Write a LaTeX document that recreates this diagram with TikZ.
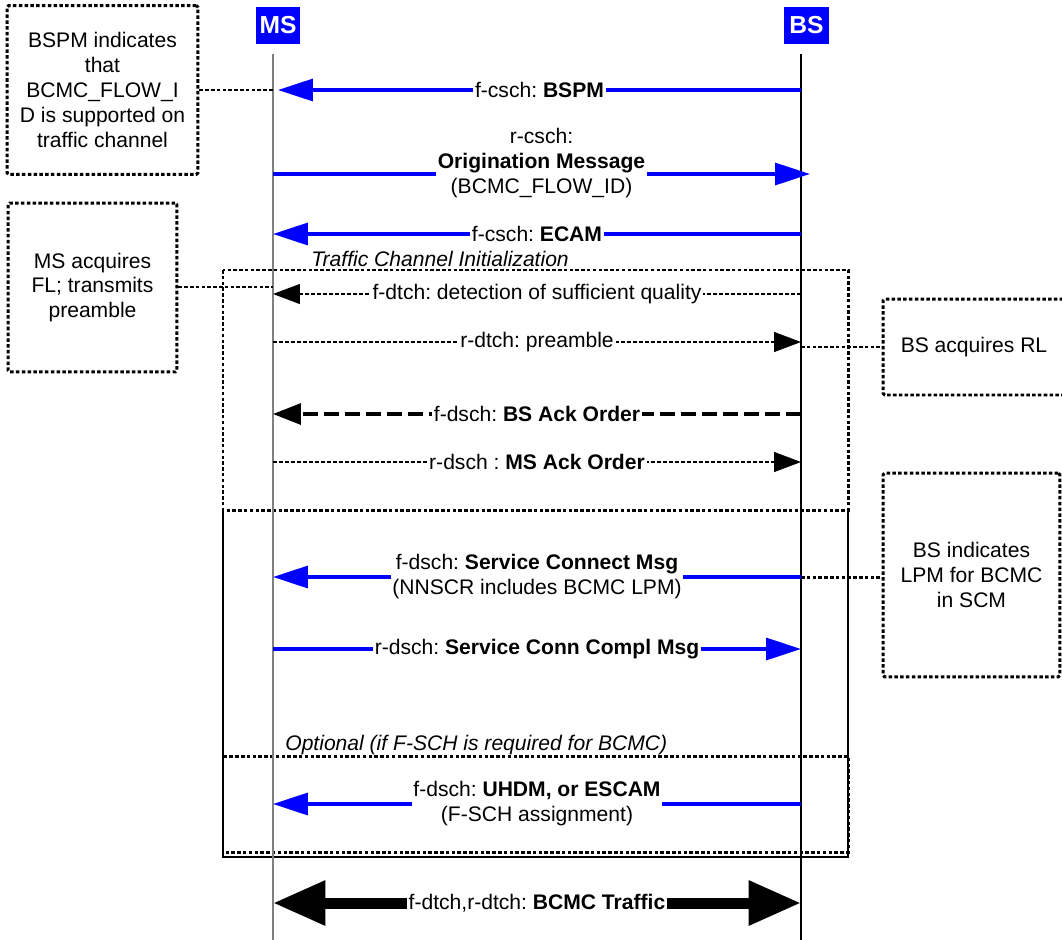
\documentclass[tikz,border=0pt]{standalone}
\usepackage{fontspec}
\setmainfont{Liberation Sans}
\usetikzlibrary{positioning,arrows.meta}

\begin{document}
\begin{tikzpicture}[
  x=0.02cm, y=-0.02cm,
  font=\fontsize{12}{14.2}\selectfont\frenchspacing,
  ent/.style={fill=blue, text=white, font=\fontsize{14}{16}\selectfont\bfseries, minimum width=0.9cm, minimum height=0.74cm, inner sep=0pt},
  life/.style={line width=0.8pt},
  note/.style={draw, line width=1.7pt, dash pattern=on 2pt off 1.3pt, rounded corners=1pt, align=center, inner sep=2pt},
  link/.style={line width=1.7pt, dash pattern=on 2pt off 1.3pt},
  frame/.style={line width=1.7pt, dash pattern=on 2pt off 1.3pt},
  lbl/.style={fill=white, text=black, inner sep=1pt, align=center},
  bmsg/.style={blue, line width=1.9pt, -{Triangle[length=0.7cm, width=0.44cm]}},
  dmsg/.style={line width=0.7pt, dash pattern=on 0.08cm off 0.04cm, -{Triangle[length=0.54cm, width=0.4cm]}},
  hmsg/.style={line width=1.8pt, dash pattern=on 0.3cm off 0.12cm, -{Triangle[length=0.56cm, width=0.42cm]}},
  tmsg/.style={line width=0.22cm, {Triangle[length=1.05cm, width=0.85cm]}-{Triangle[length=1.05cm, width=0.85cm]}},
  grpcap/.style={font=\fontsize{12}{14.2}\selectfont\itshape, anchor=west, inner sep=0pt},
]
\useasboundingbox (0,0) rectangle (1062,940);

% ---------- khung: Traffic Channel Init / Optional ----------
\draw[frame] (223,270) rectangle (848,510);
\draw[line width=1pt] (223,510) -- (223,857) -- (848,857) -- (848,510);
\draw[frame] (223,756) rectangle (848,852);
\node[grpcap] (tci) at (311,259) {Traffic Channel Initialization};
\node[grpcap] (opt) at (285,745) {Optional (if F-SCH is required for BCMC)};

% ---------- MS, BS ----------
\node[ent] (ms) at (278,25.5) {MS};
\node[ent] (bs) at (806.5,25.5) {BS};
\coordinate (mstop) at (273,54);
\coordinate (msbot) at (273,940);
\coordinate (bstop) at (801,54);
\coordinate (bsbot) at (801,940);
\draw[life, gray] (mstop) -- (msbot);
\draw[life] (bstop) -- (bsbot);

% diem tren hai duong song
\foreach \n/\y in {1/90, 2/174, 3/234, 4/294, 5/342, 6/414, 7/462, 8/577, 9/649, 10/804, 11/903} {
  \coordinate (a\n) at (273,\y);
  \coordinate (b\n) at (801,\y);
}

% ---------- ban tin ----------
\draw[bmsg] (b1) -- ([xshift=0.1cm]a1) node[midway, lbl] {f-csch: \textbf{BSPM}};
\draw[bmsg] (a2) -- ([xshift=0.18cm]b2) node[midway, lbl, yshift=0.22cm] {r-csch:\\\textbf{Origination Message}\\(BCMC\_FLOW\_ID)};
\draw[bmsg] (b3) -- (a3) node[midway, lbl] {f-csch: \textbf{ECAM}};
\draw[dmsg] (b4) -- (a4) node[midway, lbl] {f-dtch: detection of sufficient quality};
\draw[dmsg] (a5) -- (b5) node[midway, lbl] {r-dtch: preamble};
\draw[hmsg] (b6) -- (a6) node[midway, lbl] {f-dsch: \textbf{BS Ack Order}};
\draw[dmsg] (a7) -- (b7) node[midway, lbl] {r-dsch : \textbf{MS Ack Order}};
\draw[bmsg] (b8) -- (a8) node[midway, lbl] {f-dsch: \textbf{Service Connect Msg}\\(NNSCR includes BCMC LPM)};
\draw[bmsg] (a9) -- (b9) node[midway, lbl] {r-dsch: \textbf{Service Conn Compl Msg}};
\draw[bmsg] (b10) -- (a10) node[midway, lbl] {f-dsch: \textbf{UHDM, or ESCAM}\\(F-SCH assignment)};
\draw[tmsg] (a11) -- (b11) node[midway, lbl] {f-dtch,r-dtch: \textbf{BCMC Traffic}};

% ---------- ghi chu ----------
\node[note, minimum width=3.82cm, minimum height=3.38cm] (n1) at (102.5,90) {BSPM indicates\\that\\BCMC\_FLOW\_I\\D is supported on\\traffic channel};
\node[note, minimum width=3.38cm, minimum height=3.38cm] (n2) at (92.5,287.5) {MS acquires\\FL; transmits\\preamble};
\node[note, minimum width=3.64cm, minimum height=1.92cm] (n3) at (974,347) {BS acquires RL};
\node[note, minimum width=3.54cm, minimum height=4.08cm] (n4) at (971.5,575) {BS indicates\\LPM for BCMC\\in SCM};
\coordinate (c2) at (273,287);
\coordinate (c3) at (801,347);
\draw[link] (n1.east) -- (a1);
\draw[link] (n2.east |- c2) -- (c2);
\draw[link] (c3) -- (n3.west);
\draw[link] (b8) -- (b8 -| n4.west);
\end{tikzpicture}
\end{document}
